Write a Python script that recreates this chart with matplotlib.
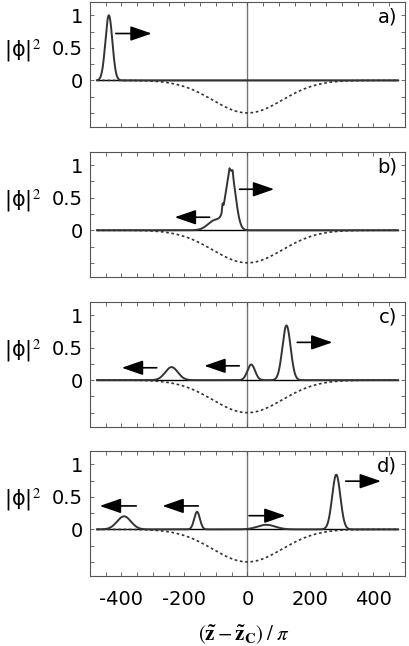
import numpy as np
import matplotlib.pyplot as plt
from matplotlib.ticker import MultipleLocator

plt.rcParams["axes.unicode_minus"] = False

# horizontal grid for the curves
x = np.linspace(-478, 478, 3000)

# potential well (dotted): depth and gaussian width
well_depth = 0.5
well_width = 110

# peaks of |phi|^2 per panel: centres, heights, widths
centres = {
    "a": [-440],
    "b": [-53, -100, -79, -47, -57],
    "c": [-241, 12, 124],
    "d": [-392, -160, 60, 282],
}
heights = {
    "a": [1.0],
    "b": [0.9, 0.16, 0.1, 0.07, 0.05],
    "c": [0.2, 0.24, 0.84],
    "d": [0.2, 0.27, 0.07, 0.84],
}
widths = {
    "a": [11],
    "b": [15, 24, 1.5, 1.5, 1.2],
    "c": [20, 12, 13],
    "d": [22, 9, 28, 13],
}

# arrows: (x start, x end, y)
arrows = {
    "a": [(-418, -304, 0.72)],
    "b": [(-120, -231, 0.20), (-25, 85, 0.63)],
    "c": [(-288, -399, 0.19), (-26, -137, 0.22), (158, 270, 0.58)],
    "d": [(-353, -469, 0.36), (-156, -270, 0.36), (5, 121, 0.21), (312, 424, 0.74)],
}

panels = ["a", "b", "c", "d"]
xticks = [-400, -200, 0, 200, 400]
yticks = [0, 0.5, 1]

fig = plt.figure(figsize=(4.09, 6.46), dpi=100)
bottoms = [0.803, 0.571, 0.339, 0.108]

well = -well_depth * np.exp(-x**2 / (2 * well_width**2))

for p, b in zip(panels, bottoms):
    ax = fig.add_axes([0.22, b, 0.770, 0.1935])
    y = np.zeros_like(x)
    for c, h, w in zip(centres[p], heights[p], widths[p]):
        y += h * np.exp(-(x - c)**2 / (2 * w**2))

    ax.axvline(0, color="#777777", lw=1.0, zorder=1)
    ax.axhline(0, color="black", lw=1.0, xmin=0.022, xmax=0.978, zorder=2)
    ax.plot(x, well, color="#333333", lw=1.2, ls=(0, (1.6, 1.6)), zorder=3)
    ax.plot(x, y, color="#333333", lw=1.4, zorder=4)

    for x0, x1, ya in arrows[p]:
        ax.annotate("", xy=(x1, ya), xytext=(x0, ya),
                    arrowprops=dict(arrowstyle="-|>,head_length=1.3,head_width=0.45",
                                    mutation_scale=10, color="black", lw=1.2,
                                    shrinkA=0, shrinkB=0))

    ax.set_xlim(-500, 500)
    ax.set_ylim(-0.72, 1.2)
    ax.set_xticks(xticks)
    ax.set_yticks(yticks)
    ax.set_yticklabels(["0", "0.5", "1"])
    ax.xaxis.set_minor_locator(MultipleLocator(50))
    ax.yaxis.set_minor_locator(MultipleLocator(0.25))
    ax.tick_params(which="both", direction="in", top=True, right=True,
                   length=3, width=0.6, color="#555555", labelsize=14, pad=5)
    ax.tick_params(axis="x", pad=10)
    if p != "d":
        ax.set_xticklabels([])
    for s in ax.spines.values():
        s.set_color("#555555")
        s.set_linewidth(0.8)

    ax.text(0.975, 0.88, p + ")", transform=ax.transAxes, ha="right", va="center",
            fontsize=14)
    ax.text(-0.213, 0.45, "|\u03d5|$^{2}$", transform=ax.get_yaxis_transform(),
            ha="center", va="center", fontsize=15, math_fontfamily="stix")

fig.text(0.597, 0.017, r"$(\mathbf{\tilde{z}} - \mathbf{\tilde{z}}_\mathbf{C})\;/\;\pi$",
         ha="center", va="center", fontsize=15, math_fontfamily="stix")

plt.savefig("out.png", dpi=100)
